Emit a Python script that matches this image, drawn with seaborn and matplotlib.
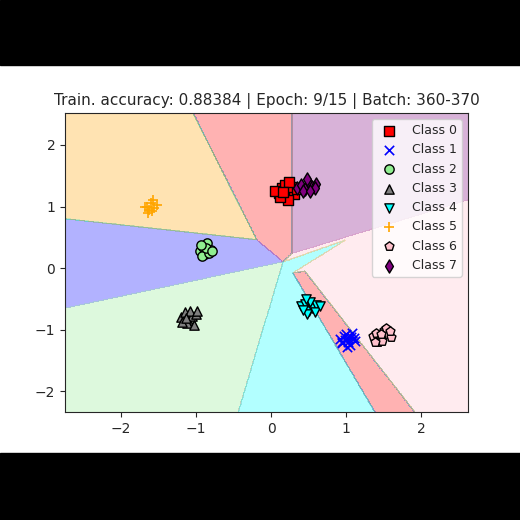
import numpy as np
import pandas as pd
import matplotlib
matplotlib.use("Agg")
import matplotlib.pyplot as plt
from matplotlib.path import Path
from matplotlib.colors import ListedColormap
from matplotlib.patches import Rectangle
import seaborn as sns

# Class styling
class_names = [f"Class {i}" for i in range(8)]
class_colors = ["red", "blue", "lightgreen", "gray", "cyan", "orange", "pink", "purple"]
class_markers = ["s", "x", "o", "^", "v", "+", "p", "d"]

# Sample points per class
x0 = [0.10, 0.15, 0.20, 0.25, 0.30, 0.18, 0.22, 0.12, 0.28, 0.35, 0.05, 0.24, 0.16]
y0 = [1.22, 1.30, 1.18, 1.25, 1.20, 1.35, 1.10, 1.15, 1.32, 1.28, 1.25, 1.40, 1.24]
x1 = [0.92, 0.97, 1.02, 1.07, 1.12, 0.95, 1.00, 1.05, 1.10, 0.98, 1.03, 1.08, 0.94, 1.01]
y1 = [-1.15, -1.10, -1.20, -1.12, -1.18, -1.22, -1.08, -1.25, -1.14, -1.17, -1.13, -1.05, -1.20, -1.28]
x2 = [-0.95, -0.90, -0.85, -0.80, -0.88, -0.92, -0.83, -0.87, -0.78, -0.93]
y2 = [0.28, 0.35, 0.40, 0.30, 0.22, 0.20, 0.25, 0.32, 0.27, 0.38]
x3 = [-1.20, -1.15, -1.10, -1.05, -1.00, -1.12, -1.08, -1.18, -1.02, -1.13, -0.98]
y3 = [-0.80, -0.72, -0.85, -0.78, -0.75, -0.90, -0.70, -0.88, -0.92, -0.82, -0.70]
x4 = [0.40, 0.45, 0.50, 0.55, 0.60, 0.48, 0.52, 0.43, 0.58, 0.47, 0.65]
y4 = [-0.62, -0.58, -0.70, -0.65, -0.60, -0.75, -0.55, -0.68, -0.72, -0.50, -0.62]
x5 = [-1.65, -1.60, -1.55, -1.58, -1.62, -1.52, -1.68, -1.57, -1.63]
y5 = [1.00, 1.05, 0.98, 0.92, 0.95, 1.02, 1.00, 1.10, 0.90]
x6 = [1.35, 1.40, 1.45, 1.50, 1.55, 1.60, 1.42, 1.48, 1.53, 1.38, 1.58, 1.46]
y6 = [-1.10, -1.05, -1.15, -1.00, -1.08, -1.12, -1.20, -1.18, -0.98, -1.20, -1.02, -1.08]
x7 = [0.35, 0.40, 0.45, 0.50, 0.55, 0.60, 0.48, 0.42, 0.58, 0.52]
y7 = [1.30, 1.35, 1.28, 1.38, 1.32, 1.36, 1.45, 1.25, 1.30, 1.26]
xs = [x0, x1, x2, x3, x4, x5, x6, x7]
ys = [y0, y1, y2, y3, y4, y5, y6, y7]

# Decision regions as polygons (class id, vertices); pink (6) is background
region_polys = [
    (5, [(-2.8, 2.6), (-1.07, 2.6), (-0.19, 0.46), (-2.8, 0.81)]),
    (0, [(-1.07, 2.6), (0.28, 2.6), (0.28, 0.24), (0.16, 0.10), (-0.19, 0.46)]),
    (7, [(0.28, 2.6), (2.7, 2.6), (2.7, 1.14), (0.28, 0.24)]),
    (1, [(-2.8, 0.81), (-0.19, 0.46), (0.16, 0.10), (-2.8, -0.67)]),
    (2, [(-2.8, -0.67), (0.16, 0.10), (-0.45, -2.4), (-2.8, -2.4)]),
    (4, [(0.16, 0.10), (1.0, 0.46), (0.29, -0.08), (1.41, -2.4), (-0.45, -2.4)]),
    (0, [(0.29, -0.08), (0.45, -0.05), (1.95, -2.4), (1.41, -2.4)]),
]

xlim = (-2.74, 2.62)
ylim = (-2.34, 2.52)

gx, gy = np.meshgrid(np.linspace(*xlim, 600), np.linspace(*ylim, 600))
pts = np.column_stack([gx.ravel(), gy.ravel()])
labels = np.full(len(pts), 6)
for cls, verts in region_polys:
    labels[Path(verts).contains_points(pts)] = cls
labels = labels.reshape(gx.shape)

sns.set_style("ticks")
fig = plt.figure(figsize=(5.2, 5.2), dpi=100)
ax = fig.add_axes([0.125, 0.2077, 0.775, 0.575])
ax.contourf(gx, gy, labels, levels=np.arange(-0.5, 8.5, 1),
            cmap=ListedColormap(class_colors), alpha=0.3)

for i in range(8):
    df = pd.DataFrame({"x": xs[i], "y": ys[i]})
    kw = dict(edgecolor="black", linewidth=1) if class_markers[i] not in ("x", "+") else dict(linewidth=1.2)
    sns.scatterplot(data=df, x="x", y="y", ax=ax, color=class_colors[i],
                    marker=class_markers[i], s=45, label=class_names[i], **kw)

ax.set_xlim(*xlim)
ax.set_ylim(*ylim)
ax.set_xlabel("")
ax.set_ylabel("")
ax.set_xticks([-2, -1, 0, 1, 2])
ax.set_yticks([-2, -1, 0, 1, 2])
ax.set_title("Train. accuracy: 0.88384 | Epoch: 9/15 | Batch: 360-370", fontsize=11)
ax.legend(loc="upper right", fontsize=9, framealpha=0.8)

# black video bars
fig.patches.append(Rectangle((0, 0.875), 1, 0.125, transform=fig.transFigure, color="black", zorder=-1))
fig.patches.append(Rectangle((0, 0), 1, 0.129, transform=fig.transFigure, color="black", zorder=-1))

fig.savefig("out.png", dpi=100)
